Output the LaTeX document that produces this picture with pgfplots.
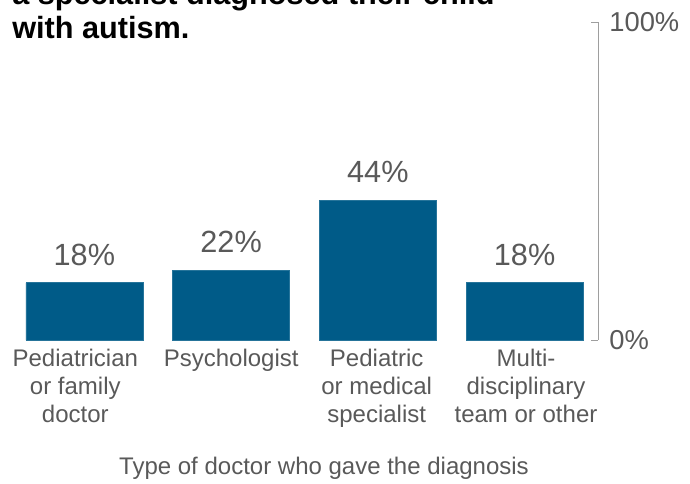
\documentclass[border=0pt]{standalone}
\usepackage{fontspec}
\setmainfont{Liberation Sans}
\usepackage{pgfplots}
\pgfplotsset{compat=1.18}
\definecolor{barblue}{HTML}{005B88}
\definecolor{txtgray}{HTML}{595959}
\definecolor{axgray}{HTML}{9E9E9E}
\begin{document}
\begin{tikzpicture}
\clip (0,0) rectangle (517.5pt,-362.25pt);
\useasboundingbox (0,0) rectangle (517.5pt,-362.25pt);
\node[anchor=base west, inner sep=0pt, font=\bfseries\fontsize{23}{26}\selectfont] at (9pt,-3.2pt) {a specialist diagnosed their child};
\node[anchor=base west, inner sep=0pt, font=\bfseries\fontsize{23}{26}\selectfont] at (9pt,-28.5pt) {with autism.};
\begin{axis}[
  at={(8.25pt,-255pt)}, anchor=south west,
  scale only axis, width=440.25pt, height=238.5pt,
  xmin=-0.5, xmax=3.5, ymin=0, ymax=100,
  axis x line=none,
  axis y line=right,
  y axis line style={axgray, line width=0.6pt, -},
  ytick={0,100}, yticklabels={0\%,100\%},
  major tick length=5pt, tick align=inside,
  y tick style={axgray, line width=0.6pt},
  yticklabel style={font=\fontsize{20.5}{24}\selectfont, text=txtgray, xshift=5pt},
  /pgf/number format/assume math mode=true,
  xtick={0,1,2,3},
  ybar, bar width=87.75pt,
  nodes near coords={\pgfmathprintnumber{\pgfplotspointmeta}\%},
  every node near coord/.append style={font=\fontsize{23}{27}\selectfont, text=txtgray, yshift=9.5pt},
  clip=false,
]
\addplot[fill=barblue, draw=barblue!85!white, line width=0.4pt] coordinates {(0,18) (1,22) (2,44) (3,18)};
\end{axis}
\begin{scope}[every node/.style={align=center, anchor=north, inner sep=0pt, text=txtgray, font=\fontsize{18}{21}\selectfont}]
\node at (56.5pt,-262pt) {Pediatrician\\or family\\doctor};
\node at (173.4pt,-262pt) {Psychologist};
\node at (282.5pt,-262pt) {Pediatric\\or medical\\specialist};
\node at (394.5pt,-262pt) {Multi-\\disciplinary\\team or other};
\end{scope}
\node[anchor=base, inner sep=0pt, text=txtgray, font=\fontsize{18}{21}\selectfont] at (243pt,-355.5pt) {Type of doctor who gave the diagnosis};
\end{tikzpicture}
\end{document}
